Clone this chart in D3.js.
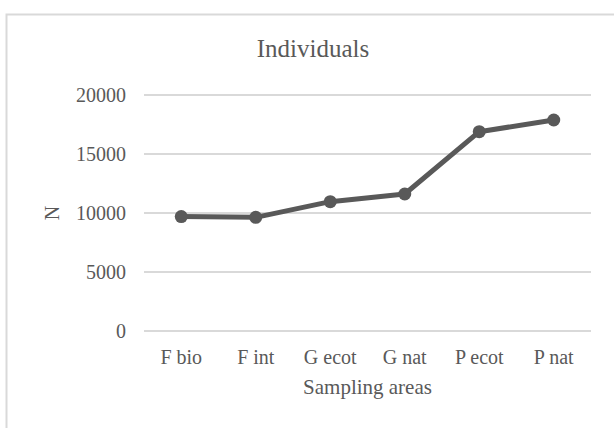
<!DOCTYPE html>
<html>
<head>
<meta charset="utf-8">
<script src="https://cdn.jsdelivr.net/npm/d3@7"></script>
<style>
  html, body { margin: 0; padding: 0; background: #fff; }
  svg { display: block; }
  text { font-family: "Liberation Serif", "Times New Roman", serif; fill: #595959; }
</style>
</head>
<body>
<script>
const categories = ["F bio", "F int", "G ecot", "G nat", "P ecot", "P nat"];
const values = [9700, 9630, 10960, 11610, 16890, 17880];
const yTicks = [0, 5000, 10000, 15000, 20000];
const chartTitle = "Individuals";
const xTitle = "Sampling areas";
const yTitle = "N";

const W = 614, H = 428;
const svg = d3.select("body").append("svg").attr("width", W).attr("height", H);

// chart area border
svg.append("rect")
  .attr("x", 6.5).attr("y", 14.5)
  .attr("width", W + 10).attr("height", H + 10)
  .attr("fill", "none").attr("stroke", "#d9d9d9").attr("stroke-width", 2);

const plot = { left: 144, right: 591, top: 95, bottom: 331 };

const x = d3.scaleBand().domain(categories).range([plot.left, plot.right]);
const y = d3.scaleLinear().domain([0, 20000]).range([plot.bottom, plot.top]);

// gridlines
svg.append("g").selectAll("line").data(yTicks).join("line")
  .attr("x1", plot.left).attr("x2", plot.right)
  .attr("y1", d => y(d)).attr("y2", d => y(d))
  .attr("stroke", "#d9d9d9").attr("stroke-width", 2);

// y tick labels
svg.append("g").selectAll("text").data(yTicks).join("text")
  .attr("x", 126).attr("y", d => y(d) + 6.8)
  .attr("text-anchor", "end").attr("font-size", 20)
  .text(d => d);

// x tick labels
svg.append("g").selectAll("text").data(categories).join("text")
  .attr("x", d => x(d) + x.bandwidth() / 2).attr("y", 363.5)
  .attr("text-anchor", "middle").attr("font-size", 20)
  .text(d => d);

// line
const line = d3.line()
  .x((d, i) => x(categories[i]) + x.bandwidth() / 2)
  .y(d => y(d));
svg.append("path").datum(values)
  .attr("d", line).attr("fill", "none")
  .attr("stroke", "#595959").attr("stroke-width", 5)
  .attr("stroke-linejoin", "round");

svg.append("g").selectAll("circle").data(values).join("circle")
  .attr("cx", (d, i) => x(categories[i]) + x.bandwidth() / 2)
  .attr("cy", d => y(d)).attr("r", 6.5)
  .attr("fill", "#595959");

// titles
svg.append("text").attr("x", 313).attr("y", 57)
  .attr("text-anchor", "middle").attr("font-size", 25).text(chartTitle);

svg.append("text").attr("x", (plot.left + plot.right) / 2).attr("y", 394)
  .attr("text-anchor", "middle").attr("font-size", 21).text(xTitle);

svg.append("text")
  .attr("transform", `translate(59, ${(plot.top + plot.bottom) / 2}) rotate(-90)`)
  .attr("text-anchor", "middle").attr("font-size", 20).text(yTitle);
</script>
</body>
</html>
